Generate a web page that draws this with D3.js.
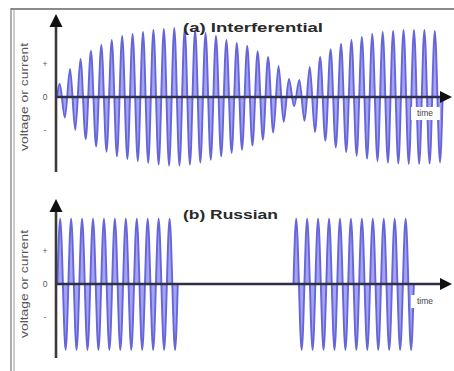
<!DOCTYPE html>
<html>
<head>
<meta charset="utf-8">
<script src="https://cdn.jsdelivr.net/npm/d3@7/dist/d3.min.js"></script>
<style>
  html, body { margin: 0; padding: 0; background: #fff; }
  svg { display: block; font-family: "Liberation Sans", Arial, sans-serif; }
</style>
</head>
<body>
<svg id="chart" width="454" height="371"></svg>
<script>
// ---------- DATA ----------
const panelTitles = ["(a) Interferential", "(b) Russian"];
const yAxisLabel = "voltage or current";
const timeLabel = "time";
const tickValues = [1, 0, -1];
const tickLabels = ["+", "0", "-"];

// time measured in carrier cycles; axis runs 0 .. 38
const timeDomain = [0, 38];

// (a) interferential: magnitude of each successive half-cycle extreme (peak, trough, peak, ...)
const interferentialFirstPeak = 0.35;
const interferentialPeriod = 1.0;
const interferentialHalfCycles = [
  0.40, 0.62, 0.85, 1.00, 1.15, 1.28, 1.40, 1.50, 1.58, 1.66,
  1.73, 1.80, 1.85, 1.88, 1.91, 1.94, 1.97, 2.00, 2.03, 2.05,
  2.06, 2.08, 2.09, 2.08, 2.06, 2.05, 2.03, 1.99, 1.94, 1.90,
  1.85, 1.80, 1.73, 1.69, 1.64, 1.60, 1.55, 1.47, 1.39, 1.30,
  1.21, 1.08, 0.94, 0.75, 0.55, 0.28, 0.52, 0.72, 0.91, 1.06,
  1.21, 1.33, 1.45, 1.53, 1.61, 1.67, 1.73, 1.78, 1.82, 1.87,
  1.91, 1.94, 1.97, 1.99, 2.00, 2.02, 2.03, 2.03, 2.03, 2.03,
  2.03, 2.02, 2.00, 1.98
];

// (b) russian: two bursts of constant amplitude
const russianPeriod = 1.05;
const russianBurstFirstPeaks = [0.40, 23.05];
const russianBurst1 = [
  1.98, 2.00, 1.98, 2.00, 1.98, 2.00, 1.98, 2.00, 1.98, 2.00, 1.98,
  2.00, 1.98, 2.00, 1.98, 2.00, 1.98, 2.00, 1.98, 2.00, 1.98, 2.00
];
const russianBurst2 = [
  1.98, 2.00, 1.98, 2.00, 1.98, 2.00, 1.98, 2.00, 1.98, 2.00, 1.98,
  2.00, 1.98, 2.00, 1.98, 2.00, 1.98, 2.00, 1.98, 2.00, 1.98, 2.00
];

// ---------- BUILD ----------
function toPoints(firstPeak, period, mags) {
  const half = period / 2;
  const pts = [{ t: firstPeak - half / 2, v: 0 }];
  mags.forEach((m, i) => pts.push({ t: firstPeak + i * half, v: (i % 2 === 0 ? 1 : -1) * m }));
  pts.push({ t: firstPeak + (mags.length - 1) * half + half / 2, v: 0 });
  return pts;
}

const svg = d3.select("#chart");
const W = 454, H = 371;

// frame
svg.append("line").attr("x1", 11).attr("x2", W).attr("y1", 9).attr("y2", 9)
  .attr("stroke", "#8a8a8a").attr("stroke-width", 1.8);
svg.append("line").attr("x1", 11).attr("x2", 11).attr("y1", 8).attr("y2", H)
  .attr("stroke", "#7a7a7a").attr("stroke-width", 1.2);
svg.append("line").attr("x1", 14).attr("x2", 14).attr("y1", 9).attr("y2", H)
  .attr("stroke", "#9a9a9a").attr("stroke-width", 1);

const x = d3.scaleLinear().domain(timeDomain).range([56, 452]);

const panels = [
  { zero: 97, top: 14, bottom: 172, title: panelTitles[0], titleY: 32, titleLen: 140,
    series: [toPoints(interferentialFirstPeak, interferentialPeriod, interferentialHalfCycles)],
    timeY: 116 },
  { zero: 284, top: 199, bottom: 358, title: panelTitles[1], titleY: 219, titleLen: 95,
    series: [toPoints(russianBurstFirstPeaks[0], russianPeriod, russianBurst1),
             toPoints(russianBurstFirstPeaks[1], russianPeriod, russianBurst2)],
    timeY: 304 }
];

panels.forEach(p => {
  const y = d3.scaleLinear().domain([-1, 1]).range([p.zero + 33, p.zero - 33]);
  const g = svg.append("g");

  const area = d3.area().x(d => x(d.t)).y0(y(0)).y1(d => y(d.v)).curve(d3.curveMonotoneX);
  const line = d3.line().x(d => x(d.t)).y(d => y(d.v)).curve(d3.curveMonotoneX);

  p.series.forEach(s => {
    g.append("path").datum(s).attr("d", area).attr("fill", "#a4a4f2").attr("stroke", "none");
    g.append("path").datum(s).attr("d", line).attr("fill", "none")
      .attr("stroke", "#6666da").attr("stroke-width", 1.9).attr("stroke-linejoin", "round");
  });

  // time axis
  const [x0, x1] = x.range();
  g.append("line").attr("x1", x0).attr("x2", x1 - 10).attr("y1", y(0)).attr("y2", y(0))
    .attr("stroke", "#2e2e48").attr("stroke-width", 2.6);
  g.append("path")
    .attr("d", `M${x1},${y(0)} L${x1 - 12},${y(0) - 6} L${x1 - 12},${y(0) + 6} Z`)
    .attr("fill", "#111");

  // vertical axis
  g.append("line").attr("x1", x0).attr("x2", x0).attr("y1", p.top + 12).attr("y2", p.bottom)
    .attr("stroke", "#3a3a3a").attr("stroke-width", 2.6);
  g.append("path")
    .attr("d", `M${x0},${p.top} L${x0 - 6.5},${p.top + 13} L${x0 + 6.5},${p.top + 13} Z`)
    .attr("fill", "#111");

  // tick labels via d3 axis
  const ax = g.append("g").attr("transform", `translate(${x0},0)`)
    .call(d3.axisLeft(y).tickValues(tickValues).tickFormat((d, i) => tickLabels[i]).tickSize(0));
  ax.select(".domain").remove();
  ax.selectAll("text").attr("x", -11).attr("text-anchor", "middle")
    .attr("font-size", 8.5).attr("fill", "#555")
    .attr("font-family", "'Liberation Sans', Arial, sans-serif");

  // y axis label
  g.append("text")
    .attr("transform", `translate(28,${p.zero}) rotate(-90)`)
    .attr("text-anchor", "middle")
    .attr("font-size", 10).attr("fill", "#555")
    .attr("textLength", 108).attr("lengthAdjust", "spacingAndGlyphs")
    .text(yAxisLabel);

  // title
  g.append("text").attr("x", 183).attr("y", p.titleY)
    .attr("font-size", 13).attr("font-weight", "bold").attr("fill", "#2a2a2a")
    .attr("textLength", p.titleLen).attr("lengthAdjust", "spacingAndGlyphs")
    .text(p.title);

  // time label with white box
  g.append("rect").attr("x", 411).attr("y", p.timeY - 9).attr("width", 29).attr("height", 13)
    .attr("fill", "#fff");
  g.append("text").attr("x", 425).attr("y", p.timeY).attr("text-anchor", "middle")
    .attr("font-size", 8.5).attr("fill", "#444").text(timeLabel);
});
</script>
</body>
</html>
